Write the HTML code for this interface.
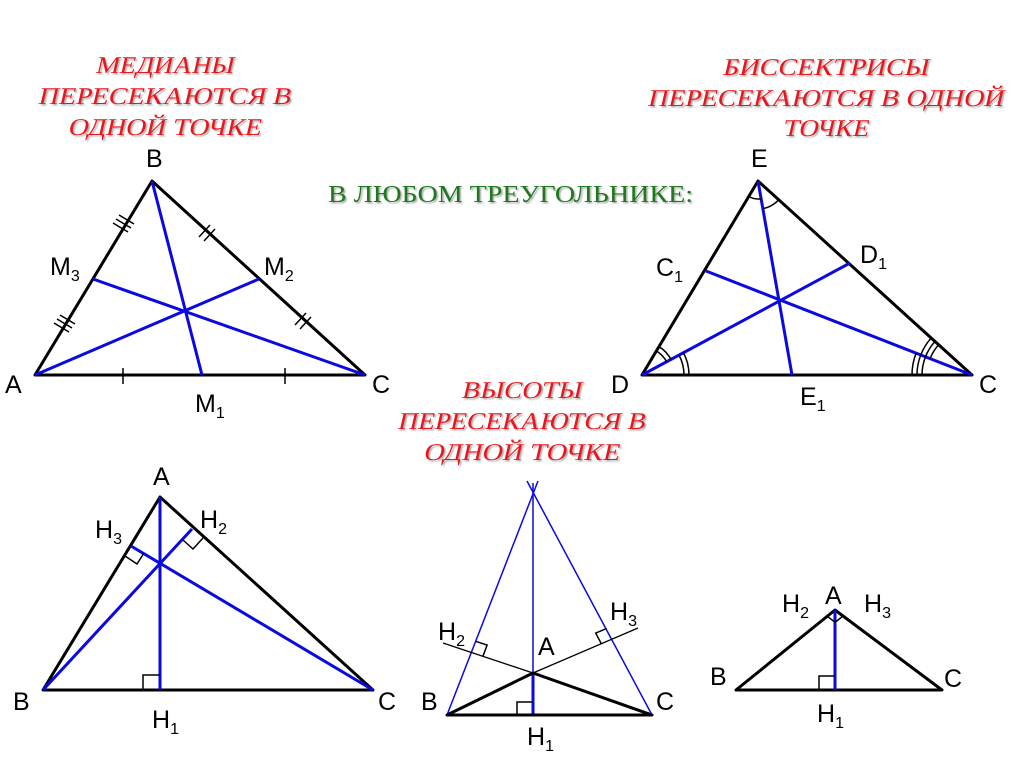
<!DOCTYPE html>
<html><head><meta charset="utf-8"><style>
html,body{margin:0;padding:0;background:#fff;}
svg{display:block}
.r{font-family:"Liberation Serif","Noto Serif CJK SC",serif;font-style:normal;font-size:24px;fill:#e8141c;text-anchor:middle;}
.g{font-family:"Liberation Serif","Noto Serif CJK SC",serif;font-size:24px;fill:#1a7a1a;}
.l{font-family:"Liberation Sans",sans-serif;font-size:25px;fill:#000;}
.s{font-size:16px;}
.k{stroke:#000;stroke-width:3;fill:none;stroke-linecap:round;stroke-linejoin:round}
.b{stroke:#0a0ae0;stroke-width:3;fill:none}
.t{stroke:#000;stroke-width:1.5;fill:none}
</style></head><body>
<svg width="1024" height="767" viewBox="0 0 1024 767" xmlns="http://www.w3.org/2000/svg">
<defs><filter id="sh"><feDropShadow dx="1.5" dy="1.5" stdDeviation="0.8" flood-color="#888" flood-opacity="0.7"/></filter></defs>
<g filter="url(#sh)">
<g transform="translate(164,73) skewX(-13)"><text class="r" x="0" y="0" textLength="138" lengthAdjust="spacingAndGlyphs">МЕДИАНЫ</text></g>
<g transform="translate(164,104) skewX(-13)"><text class="r" x="0" y="0" textLength="253" lengthAdjust="spacingAndGlyphs">ПЕРЕСЕКАЮТСЯ В</text></g>
<g transform="translate(164,135) skewX(-13)"><text class="r" x="0" y="0" textLength="193" lengthAdjust="spacingAndGlyphs">ОДНОЙ ТОЧКЕ</text></g>
<g transform="translate(825,75) skewX(-13)"><text class="r" x="0" y="0" textLength="206" lengthAdjust="spacingAndGlyphs">БИССЕКТРИСЫ</text></g>
<g transform="translate(825,106) skewX(-13)"><text class="r" x="0" y="0" textLength="356" lengthAdjust="spacingAndGlyphs">ПЕРЕСЕКАЮТСЯ В ОДНОЙ</text></g>
<g transform="translate(825,136) skewX(-13)"><text class="r" x="0" y="0" textLength="86" lengthAdjust="spacingAndGlyphs">ТОЧКЕ</text></g>
<g transform="translate(521,398) skewX(-13)"><text class="r" x="0" y="0" textLength="120" lengthAdjust="spacingAndGlyphs">ВЫСОТЫ</text></g>
<g transform="translate(521,429) skewX(-13)"><text class="r" x="0" y="0" textLength="248" lengthAdjust="spacingAndGlyphs">ПЕРЕСЕКАЮТСЯ В</text></g>
<g transform="translate(521,460) skewX(-13)"><text class="r" x="0" y="0" textLength="196" lengthAdjust="spacingAndGlyphs">ОДНОЙ ТОЧКЕ</text></g>
<text class="g" x="328" y="202" textLength="365" lengthAdjust="spacingAndGlyphs">В ЛЮБОМ ТРЕУГОЛЬНИКЕ:</text>
</g>

<!-- Triangle 1: medians -->
<polygon class="k" points="35,375 152,181 365,375"/>
<line class="b" x1="152" y1="181" x2="202" y2="375"/>
<line class="b" x1="35" y1="375" x2="259" y2="279"/>
<line class="b" x1="365" y1="375" x2="93" y2="279"/>
<g class="t">
<line x1="123" y1="368" x2="123" y2="384"/><line x1="285" y1="368" x2="285" y2="384"/>
<line x1="113" y1="223" x2="128" y2="232"/><line x1="116" y1="219" x2="131" y2="228"/><line x1="119" y1="215" x2="134" y2="224"/>
<line x1="54" y1="323" x2="69" y2="332"/><line x1="57" y1="319" x2="72" y2="328"/><line x1="60" y1="315" x2="75" y2="324"/>
<line x1="199" y1="237" x2="210" y2="225"/><line x1="204" y1="241" x2="215" y2="229"/>
<line x1="295" y1="325" x2="306" y2="313"/><line x1="300" y1="329" x2="311" y2="317"/>
</g>
<text class="l" x="146" y="167">B</text>
<text class="l" x="5" y="393">A</text>
<text class="l" x="372" y="393">C</text>
<text class="l" x="50" y="275">M<tspan class="s" dy="6">3</tspan></text>
<text class="l" x="264" y="275">M<tspan class="s" dy="6">2</tspan></text>
<text class="l" x="195" y="412">M<tspan class="s" dy="6">1</tspan></text>

<!-- Triangle 2: bisectors -->
<polygon class="k" points="642,375 758,181 972,375"/>
<line class="b" x1="758" y1="181" x2="792" y2="375"/>
<line class="b" x1="642" y1="375" x2="850" y2="263"/>
<line class="b" x1="972" y1="375" x2="706" y2="271"/>
<g class="t">
<path d="M748.7,196.4 A18,18 0 0 0 761.1,198.7"/>
<path d="M762.9,208.6 A28,28 0 0 0 778.7,199.8"/>
<path d="M656.4,351 A28,28 0 0 1 666.6,361.7"/>
<path d="M659,346.7 A33,33 0 0 1 671,359.4"/>
<path d="M679,355.1 A42,42 0 0 1 684,375"/>
<path d="M683.4,352.7 A47,47 0 0 1 689,375"/>
<path d="M930.1,358.6 A45,45 0 0 1 938.7,344.8"/>
<path d="M925.5,356.8 A50,50 0 0 1 935,341.4"/>
<path d="M920.8,354.9 A55,55 0 0 1 931.2,338"/>
<path d="M922,375 A50,50 0 0 1 925.5,356.8"/>
<path d="M917,375 A55,55 0 0 1 920.8,354.9"/>
<path d="M912,375 A60,60 0 0 1 916.1,353.1"/>
</g>
<text class="l" x="751" y="167">E</text>
<text class="l" x="611" y="393">D</text>
<text class="l" x="979" y="393">C</text>
<text class="l" x="656" y="276">C<tspan class="s" dy="6">1</tspan></text>
<text class="l" x="860" y="263">D<tspan class="s" dy="6">1</tspan></text>
<text class="l" x="800" y="405">E<tspan class="s" dy="6">1</tspan></text>

<!-- Triangle 3 -->
<polygon class="k" points="160,497 43,690 373,690"/>
<line class="b" x1="160" y1="497" x2="160" y2="690"/>
<line class="b" x1="43" y1="690" x2="192" y2="529"/>
<line class="b" x1="373" y1="690" x2="131" y2="546"/>
<g class="t">
<polyline points="143,690 143,675 160,675"/>
<polyline points="125,556 137,564 144,553"/>
<polyline points="183,540 193,549 203,538"/>
</g>
<text class="l" x="153" y="485">A</text>
<text class="l" x="95" y="538">H<tspan class="s" dy="6">3</tspan></text>
<text class="l" x="200" y="528">H<tspan class="s" dy="6">2</tspan></text>
<text class="l" x="13" y="710">B</text>
<text class="l" x="378" y="710">C</text>
<text class="l" x="152" y="728">H<tspan class="s" dy="6">1</tspan></text>

<!-- Triangle 4: obtuse -->
<line x1="447" y1="715" x2="538" y2="481" stroke="#0a0ae0" stroke-width="1.5"/>
<line x1="652" y1="715" x2="527" y2="481" stroke="#0a0ae0" stroke-width="1.5"/>
<line x1="533" y1="483" x2="533" y2="715" stroke="#0a0ae0" stroke-width="1.5"/>
<line x1="533" y1="673" x2="533" y2="715" stroke="#0a0ae0" stroke-width="3"/>
<line x1="443" y1="643" x2="533" y2="673" stroke="#000" stroke-width="1.3"/>
<line x1="533" y1="673" x2="638" y2="628" stroke="#000" stroke-width="1.3"/>
<polygon class="k" points="447,715 533,673 652,715"/>
<g class="t">
<polyline points="517,715 517,702 533,702"/>
<polyline points="482.9,656.3 487.1,645.1 475.7,641.3"/>
<polyline points="601.3,643.7 595.7,633.1 606.7,628.4"/>
</g>
<text class="l" x="438" y="640">H<tspan class="s" dy="6">2</tspan></text>
<text class="l" x="538" y="655">A</text>
<text class="l" x="610" y="620">H<tspan class="s" dy="6">3</tspan></text>
<text class="l" x="421" y="710">B</text>
<text class="l" x="656" y="710">C</text>
<text class="l" x="527" y="745">H<tspan class="s" dy="6">1</tspan></text>

<!-- Triangle 5: right -->
<polygon class="k" points="736,690 835,610 942,690"/>
<line x1="835" y1="610" x2="835" y2="690" stroke="#0a0ae0" stroke-width="3"/>
<g class="t">
<polyline points="819,690 819,676 835,676"/>
<polyline points="827.2,616.3 835.2,622.3 843,616"/>
</g>
<text class="l" x="825" y="604">A</text>
<text class="l" x="782" y="612">H<tspan class="s" dy="6">2</tspan></text>
<text class="l" x="864" y="612">H<tspan class="s" dy="6">3</tspan></text>
<text class="l" x="710" y="685">B</text>
<text class="l" x="944" y="687">C</text>
<text class="l" x="817" y="722">H<tspan class="s" dy="6">1</tspan></text>
</svg>
</body></html>
